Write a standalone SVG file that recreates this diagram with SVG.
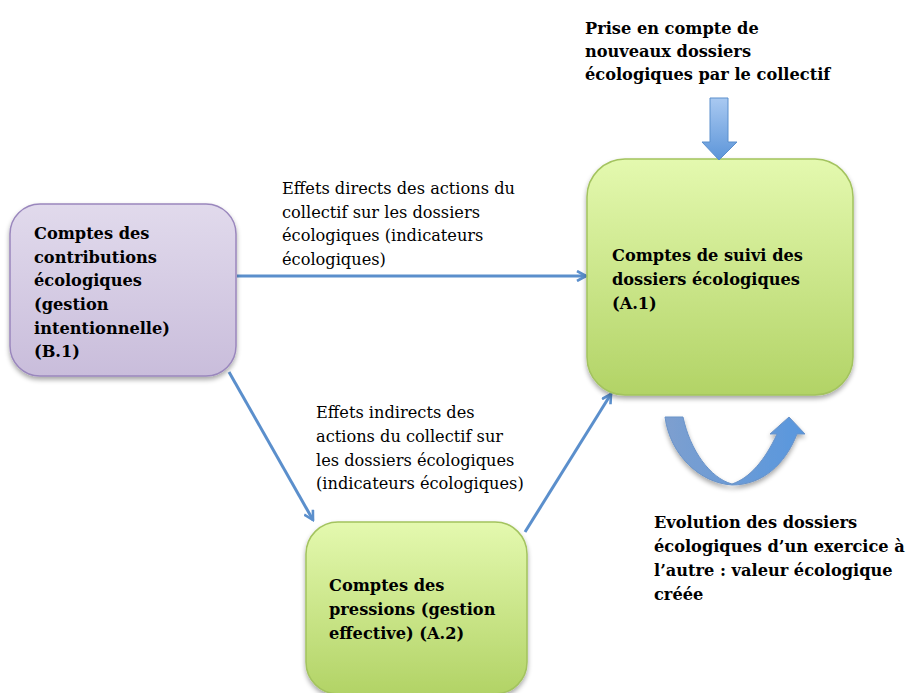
<svg xmlns="http://www.w3.org/2000/svg" width="907" height="693" viewBox="0 0 907 693">
<defs>
<linearGradient id="gGreen" x1="0" y1="0" x2="0" y2="1">
<stop offset="0" stop-color="#e4f9af"/>
<stop offset="1" stop-color="#b2d366"/>
</linearGradient>
<linearGradient id="gPurple" x1="0" y1="0" x2="0" y2="1">
<stop offset="0" stop-color="#e1daec"/>
<stop offset="1" stop-color="#c9bddb"/>
</linearGradient>
<linearGradient id="gBlueV" x1="0" y1="0" x2="0" y2="1">
<stop offset="0" stop-color="#a9c9f1"/>
<stop offset="1" stop-color="#5c95d9"/>
</linearGradient>
<linearGradient id="gBlueH" x1="0" y1="0" x2="1" y2="0">
<stop offset="0" stop-color="#7d9fcf"/>
<stop offset="1" stop-color="#5897de"/>
</linearGradient>
<filter id="sh" x="-10%" y="-10%" width="130%" height="130%">
<feGaussianBlur in="SourceAlpha" stdDeviation="2.5"/>
<feOffset dx="0" dy="3" result="b"/>
<feComponentTransfer><feFuncA type="linear" slope="0.35"/></feComponentTransfer>
<feMerge><feMergeNode/><feMergeNode in="SourceGraphic"/></feMerge>
</filter>
<marker id="ah" viewBox="0 0 12 12" refX="10" refY="6" markerWidth="12" markerHeight="12" markerUnits="userSpaceOnUse" orient="auto">
<path d="M1,1 L10,6 L1,11" fill="none" stroke="#5b8fcc" stroke-width="2.6"/>
</marker>
</defs>
<style>
.t{font-family:"DejaVu Serif","Liberation Serif",serif;font-size:16.2px;fill:#000}
.b{font-weight:bold}
.ln{stroke:#5b8fcc;stroke-width:3;fill:none;marker-end:url(#ah)}
</style>
<rect width="907" height="693" fill="#ffffff"/>
<g id="connectors">
<line class="ln" x1="237" y1="276" x2="586" y2="276"/>
<line class="ln" x1="229" y1="372" x2="313" y2="520"/>
<line class="ln" x1="525" y1="532" x2="611" y2="394"/>
</g>
<g id="node-b1">
<rect x="10" y="204" width="226" height="172" rx="30" fill="url(#gPurple)" stroke="#9a87bd" stroke-width="1.5" filter="url(#sh)"/>
<text class="t b"><tspan x="34" y="239">Comptes des</tspan><tspan x="34" y="263">contributions</tspan><tspan x="34" y="286">écologiques</tspan><tspan x="34" y="310">(gestion</tspan><tspan x="34" y="334">intentionnelle)</tspan><tspan x="34" y="357">(B.1)</tspan></text>
</g>
<g id="node-a1">
<rect x="587" y="159" width="266" height="236" rx="38" fill="url(#gGreen)" stroke="#a3c35e" stroke-width="1.5" filter="url(#sh)"/>
<text class="t b"><tspan x="612" y="261">Comptes de suivi des</tspan><tspan x="612" y="285">dossiers écologiques</tspan><tspan x="612" y="309">(A.1)</tspan></text>
</g>
<g id="node-a2">
<rect x="306" y="522" width="221" height="172" rx="32" fill="url(#gGreen)" stroke="#a3c35e" stroke-width="1.5" filter="url(#sh)"/>
<text class="t b"><tspan x="329" y="591">Comptes des</tspan><tspan x="329" y="615">pressions (gestion</tspan><tspan x="329" y="639">effective) (A.2)</tspan></text>
</g>
<g id="input-arrow">
<path d="M710,98 L728,98 L728,142 L737,142 L719,160 L702,142 L710,142 Z" fill="url(#gBlueV)" stroke="#5b8fcc" stroke-width="1"/>
<text class="t b"><tspan x="585" y="34">Prise en compte de</tspan><tspan x="585" y="57">nouveaux dossiers</tspan><tspan x="585" y="80">écologiques par le collectif</tspan></text>
</g>
<g id="cycle-arrow">
<path d="M665,417 L683,417 C690,450 710,478 732,484 C750,478 765,460 777,434 L770,434 L789,417 L805,434 L797,434 C785,465 762,485 732,485 C700,483 670,455 665,417 Z" fill="url(#gBlueH)" stroke="#6a93c8" stroke-width="1" filter="url(#sh)"/>
<text class="t b"><tspan x="654" y="528">Evolution des dossiers</tspan><tspan x="654" y="552">écologiques d’un exercice à</tspan><tspan x="654" y="576">l’autre : valeur écologique</tspan><tspan x="654" y="600">créée</tspan></text>
</g>
<g id="labels">
<text class="t"><tspan x="282" y="194">Effets directs des actions du</tspan><tspan x="282" y="218">collectif sur les dossiers</tspan><tspan x="282" y="241">écologiques (indicateurs</tspan><tspan x="282" y="265">écologiques)</tspan></text>
<text class="t"><tspan x="316" y="418">Effets indirects des</tspan><tspan x="316" y="442">actions du collectif sur</tspan><tspan x="316" y="466">les dossiers écologiques</tspan><tspan x="316" y="489">(indicateurs écologiques)</tspan></text>
</g>
</svg>
